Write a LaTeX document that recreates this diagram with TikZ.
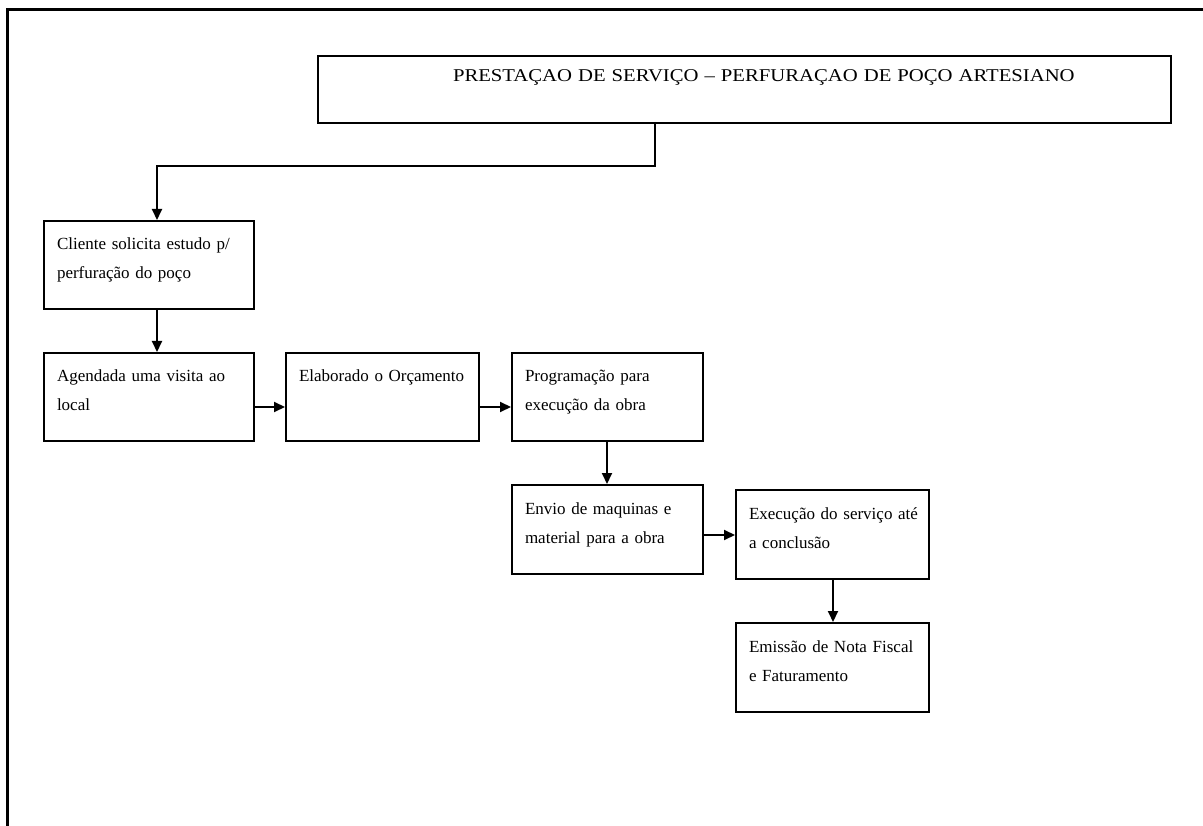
\documentclass[tikz,border=0pt]{standalone}
\usepackage{fontspec}
\setmainfont{Liberation Serif}
\newfontfamily\titlefont[FakeStretch=1.15]{Liberation Serif}
\usetikzlibrary{arrows.meta}
\tikzset{
  pbox/.style={draw, line width=2pt, anchor=north west, inner xsep=13pt,
    inner ysep=0pt, align=left, text height=29pt,
    font=\fontsize{17}{29}\selectfont},
  arr/.style={line width=2pt, -{Triangle[length=11pt,width=10pt]}},
}
\begin{document}
\begin{tikzpicture}[x=1pt,y=-1pt]
\useasboundingbox (0,0) rectangle (1203,826);
% page frame (top and left edges)
\draw[line width=3pt] (7,826) -- (7,10) -- (1203,10);

% title box
\node[draw, line width=2pt, anchor=north west, inner sep=0pt, align=left,
  text width=853pt, text height=26pt, text depth=41pt,
  font=\titlefont\fontsize{18}{22}\selectfont] (title) at (317,55)
  {\hspace*{135pt}PRESTAÇAO DE SERVIÇO – PERFURAÇAO DE POÇO ARTESIANO};

% process steps
\node[pbox, text width=184pt, text depth=59pt] (c1) at (43,220)
  {Cliente solicita estudo p/\\perfuração do poço};
\node[pbox, text width=184pt, text depth=59pt] (c2) at (43,352)
  {Agendada uma visita ao\\local};
\node[pbox, text width=167pt, text depth=59pt] (c3) at (285,352)
  {Elaborado o Orçamento};
\node[pbox, text width=165pt, text depth=59pt] (c4) at (511,352)
  {Programação para\\execução da obra};
\node[pbox, text width=165pt, text depth=60pt] (c5) at (511,484)
  {Envio de maquinas e\\material para a obra};
\node[pbox, text width=167pt, text depth=60pt] (c6) at (735,489)
  {\mbox{Execução do serviço até}\\a conclusão};
\node[pbox, text width=167pt, text depth=60pt] (c7) at (735,622)
  {\mbox{Emissão de Nota Fiscal}\\e Faturamento};

% connectors
\coordinate (t1) at (655,122);
\draw[arr] (t1) -- (655,166) -| ([xshift=8pt]c1.north);
\draw[arr] ([xshift=8pt]c1.south) -- ([xshift=8pt]c2.north);
\draw[arr] ([yshift=-10pt]c2.east) -- ([yshift=-10pt]c3.west);
\draw[arr] ([yshift=-10pt]c3.east) -- ([yshift=-10pt]c4.west);
\draw[arr] ([xshift=-0.5pt]c4.south) -- ([xshift=-0.5pt]c5.north);
\draw[arr] (c5.east |- 0,535) -- (c6.west |- 0,535);
\draw[arr] ([xshift=0.5pt]c6.south) -- ([xshift=0.5pt]c7.north);
\end{tikzpicture}
\end{document}
